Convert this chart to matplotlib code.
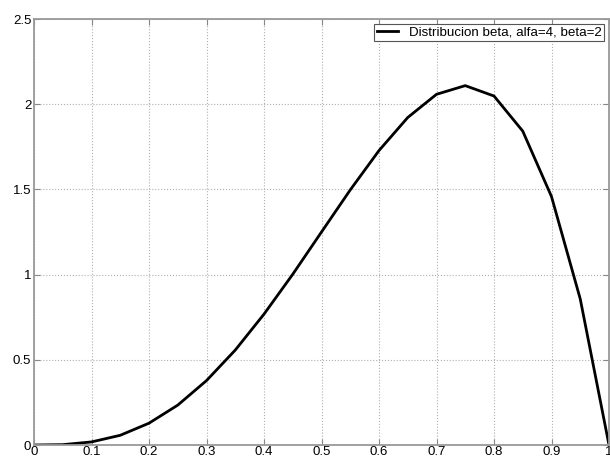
import matplotlib
matplotlib.use("Agg")
import matplotlib.pyplot as plt

# values (21 points, 0.05 apart)
x_vals = [0.0, 0.05, 0.10, 0.15, 0.20, 0.25, 0.30, 0.35, 0.40, 0.45, 0.50,
          0.55, 0.60, 0.65, 0.70, 0.75, 0.80, 0.85, 0.90, 0.95, 1.0]
y_vals = [0.0, 0.002, 0.018, 0.057, 0.128, 0.234, 0.378, 0.557, 0.768, 1.002, 1.25,
          1.497, 1.728, 1.922, 2.058, 2.109, 2.048, 1.842, 1.458, 0.857, 0.0]
x_ticks = [0, 0.1, 0.2, 0.3, 0.4, 0.5, 0.6, 0.7, 0.8, 0.9, 1]
x_tick_labels = ["0", "0.1", "0.2", "0.3", "0.4", "0.5", "0.6", "0.7", "0.8", "0.9", "1"]
y_ticks = [0, 0.5, 1, 1.5, 2, 2.5]
y_tick_labels = ["0", "0.5", "1", "1.5", "2", "2.5"]
legend_label = "Distribucion beta, alfa=4, beta=2"

plt.rcParams["font.family"] = ["Liberation Sans", "DejaVu Sans"]

fig = plt.figure(figsize=(6.1, 4.59), dpi=100)
ax = fig.add_axes([34 / 610, 14 / 459, 575 / 610, 426 / 459])

ax.plot(x_vals, y_vals, color="black", linewidth=2.0, label=legend_label)

ax.set_xlim(0, 1)
ax.set_ylim(0, 2.5)
ax.set_xticks(x_ticks)
ax.set_xticklabels(x_tick_labels)
ax.set_yticks(y_ticks)
ax.set_yticklabels(y_tick_labels)
ax.tick_params(direction="in", length=4, color="#888888", labelsize=9.5,
               top=True, right=True, pad=2)
ax.tick_params(axis="x", pad=1)
for s in ax.spines.values():
    s.set_color("#999999")
    s.set_linewidth(1.3)

ax.grid(True, linestyle=":", color="#b0b0b0", linewidth=0.8)

leg = ax.legend(loc="upper right", fontsize=9.6, fancybox=False, framealpha=1,
                edgecolor="#555555", borderpad=0.2, handlelength=1.6,
                handletextpad=0.8, borderaxespad=0.35)
leg.get_frame().set_linewidth(0.8)

fig.savefig("out.png", dpi=100)
